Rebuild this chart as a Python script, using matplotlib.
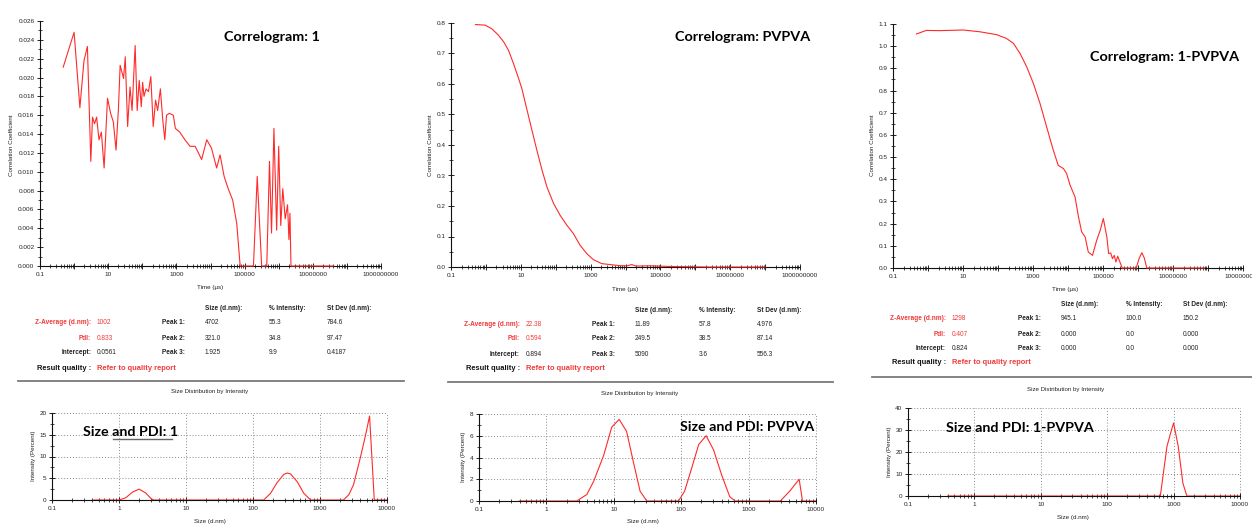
import numpy as np
import matplotlib
matplotlib.use('Agg')
import matplotlib.pyplot as plt
from matplotlib.ticker import FixedLocator, FixedFormatter, NullFormatter
from matplotlib.lines import Line2D

# ---------------- data ----------------
# Correlogram: 1  (log10 of time in µs, correlation coefficient)
corr1_logt = [-0.32, 0.00, 0.17, 0.29, 0.39, 0.49, 0.54, 0.60, 0.66, 0.73,
              0.80, 0.88, 0.98, 1.07, 1.15, 1.23, 1.30, 1.35, 1.45, 1.50,
              1.57, 1.64, 1.70, 1.79, 1.85, 1.91, 1.97, 2.01, 2.05, 2.11,
              2.18, 2.25, 2.32, 2.39, 2.45, 2.53, 2.60, 2.66, 2.71, 2.79,
              2.91, 2.97, 3.10, 3.25, 3.40, 3.55, 3.74, 3.89, 4.03, 4.18,
              4.28, 4.40, 4.52, 4.65, 4.77, 4.87, 5.26, 5.37, 5.50, 5.65,
              5.73, 5.79, 5.86, 5.94, 6.00, 6.06, 6.12, 6.19, 6.26, 6.30,
              6.33, 6.36, 7.60]
corr1_val = [0.0211, 0.0248, 0.0168, 0.0218, 0.0233, 0.0111, 0.0158, 0.0151, 0.0158, 0.0134,
             0.0142, 0.0104, 0.0178, 0.0162, 0.0153, 0.0123, 0.0167, 0.0213, 0.0199, 0.0222,
             0.0148, 0.0190, 0.0165, 0.0234, 0.0165, 0.0197, 0.0169, 0.0195, 0.0180, 0.0188,
             0.0185, 0.0201, 0.0148, 0.0176, 0.0165, 0.0188, 0.0155, 0.0134, 0.0160, 0.0162,
             0.0160, 0.0146, 0.0142, 0.0134, 0.0127, 0.0127, 0.0113, 0.0134, 0.0125, 0.0104,
             0.0118, 0.0095, 0.0082, 0.0070, 0.0045, 0.0000, 0.0000, 0.0095, 0.0000, 0.0000,
             0.0111, 0.0035, 0.0146, 0.0038, 0.0127, 0.0043, 0.0082, 0.0050, 0.0065, 0.0028,
             0.0056, 0.0000, 0.0000]

# Correlogram: PVPVA
corr2_logt = [-0.30, -0.02, 0.17, 0.36, 0.51, 0.65, 0.79, 0.94, 1.03, 1.18,
              1.32, 1.46, 1.61, 1.75, 1.94, 2.13, 2.32, 2.51, 2.70, 2.89,
              3.08, 3.32, 3.56, 3.85, 4.05, 4.18, 4.30, 4.70, 5.20, 5.70,
              6.40, 8.00]
corr2_val = [0.795, 0.793, 0.781, 0.760, 0.738, 0.710, 0.667, 0.617, 0.585, 0.514,
             0.448, 0.383, 0.317, 0.262, 0.208, 0.169, 0.137, 0.109, 0.071, 0.044,
             0.024, 0.011, 0.008, 0.004, 0.004, 0.008, 0.003, 0.004, 0.002, 0.001,
             0.000, 0.000]

# Correlogram: 1-PVPVA
corr3_logt = [-0.33, -0.05, 0.34, 1.00, 1.48, 1.96, 2.24, 2.44, 2.63, 2.82,
              3.01, 3.20, 3.39, 3.58, 3.72, 3.87, 3.96, 4.06, 4.20, 4.30,
              4.39, 4.49, 4.58, 4.70, 4.82, 4.92, 5.01, 5.11, 5.16, 5.22,
              5.27, 5.32, 5.37, 5.42, 5.50, 5.55, 5.95, 6.03, 6.11, 6.18,
              6.25, 7.90]
corr3_val = [1.055, 1.071, 1.070, 1.073, 1.065, 1.052, 1.035, 1.013, 0.967, 0.907,
             0.832, 0.742, 0.636, 0.531, 0.463, 0.448, 0.426, 0.373, 0.321, 0.230,
             0.163, 0.140, 0.072, 0.057, 0.125, 0.170, 0.223, 0.140, 0.065, 0.068,
             0.042, 0.057, 0.027, 0.053, 0.020, 0.000, 0.000, 0.042, 0.069, 0.045,
             0.000, 0.000]

# Size distributions (log10 of size in d.nm, intensity %)
size1_logd = [-0.40, 0.00, 0.10, 0.20, 0.30, 0.40, 0.48, 0.52,
              2.16, 2.26, 2.36, 2.46, 2.51, 2.56, 2.66, 2.76, 2.86,
              3.35, 3.43, 3.50, 3.60, 3.68, 3.74, 3.81, 4.00]
size1_val = [0, 0, 0.5, 1.8, 2.5, 1.6, 0.3, 0,
             0, 1.5, 4.0, 5.9, 6.2, 6.0, 4.2, 1.5, 0,
             0, 1.2, 3.5, 9.6, 14.9, 19.3, 0, 0]

size2_logd = [-0.40, 0.45, 0.60, 0.70, 0.85, 0.97, 1.08, 1.19, 1.29, 1.39, 1.49,
              1.96, 2.05, 2.13, 2.26, 2.37, 2.48, 2.60, 2.72, 2.80,
              3.47, 3.61, 3.75, 3.80, 4.00]
size2_val = [0, 0, 0.6, 1.8, 4.2, 6.8, 7.5, 6.4, 3.6, 0.9, 0,
             0, 0.9, 2.5, 5.2, 6.0, 4.7, 2.4, 0.4, 0,
             0, 0.9, 2.0, 0, 0]

size3_logd = [-0.40, 2.80, 2.90, 2.95, 3.00, 3.07, 3.14, 3.20, 4.00]
size3_val = [0, 0, 22.5, 28.1, 33.2, 22.5, 5.8, 0, 0]

# Result tables
tab_headers = ['Size (d.nm):', '% Intensity:', 'St Dev (d.nm):']
tab_labels = ['Z-Average (d.nm):', 'PdI:', 'Intercept:']
t1_vals = ['1002', '0.833', '0.0561']
t1_size = ['4702', '321.0', '1.925']
t1_int = ['55.3', '34.8', '9.9']
t1_sd = ['784.6', '97.47', '0.4187']
t2_vals = ['22.38', '0.594', '0.894']
t2_size = ['11.89', '249.5', '5090']
t2_int = ['57.8', '38.5', '3.6']
t2_sd = ['4.976', '87.14', '556.3']
t3_vals = ['1298', '0.407', '0.824']
t3_size = ['945.1', '0.000', '0.000']
t3_int = ['100.0', '0.0', '0.0']
t3_sd = ['150.2', '0.000', '0.000']

corr_xlabels = ['0.1', '', '10', '', '1000', '', '100000', '', '10000000', '', '1000000000']
size_xlabels = ['0.1', '1', '10', '100', '1000', '10000']

# ---------------- drawing ----------------
W, H = 1252, 525
fig = plt.figure(figsize=(W / 100, H / 100), dpi=100)
fig.patch.set_facecolor('white')

SANS = 'Liberation Sans'
TITLE_FONT = 'Lato'
RED = '#ff2a2a'
TRED = '#f03a3a'
DARK = '#222222'


def fx(x):
    return x / W


def fy(y):
    return 1 - y / H


def add_ax(l, t, r, b):
    return fig.add_axes([fx(l), fy(b), (r - l) / W, (b - t) / H])


def style_ticks(ax):
    ax.tick_params(axis='both', which='major', direction='inout', length=4, width=0.6,
                   labelsize=4.6, pad=2, colors='black', labelcolor=DARK)
    ax.tick_params(axis='both', which='minor', direction='inout', length=2.4, width=0.5,
                   colors='black')
    for lab in ax.get_xticklabels() + ax.get_yticklabels():
        lab.set_fontfamily(SANS)
    for s in ['left', 'bottom']:
        ax.spines[s].set_linewidth(0.8)
        ax.spines[s].set_color('#111111')
    ax.spines[['top', 'right']].set_visible(False)


def correlogram(box, logt, vals, ymax, ystep, fmt, minor_step):
    ax = add_ax(*box)
    ax.plot(10 ** np.array(logt), vals, color=RED, lw=0.8, clip_on=False, zorder=3)
    ax.set_xscale('log')
    ax.set_xlim(0.1, 1e9)
    ax.set_ylim(0, ymax)
    dec = 10.0 ** np.arange(-1, 10)
    ax.xaxis.set_major_locator(FixedLocator(dec))
    ax.xaxis.set_major_formatter(FixedFormatter(corr_xlabels))
    ax.xaxis.set_minor_locator(FixedLocator([d * k for d in dec[:-1] for k in range(2, 10)]))
    ax.xaxis.set_minor_formatter(NullFormatter())
    yt = np.arange(0, ymax + ystep / 2, ystep)
    ax.yaxis.set_major_locator(FixedLocator(yt))
    ax.yaxis.set_major_formatter(FixedFormatter([fmt % v for v in yt]))
    ax.yaxis.set_minor_locator(FixedLocator(np.arange(0, ymax + 1e-9, minor_step)))
    ax.set_facecolor('none')
    style_ticks(ax)
    return ax


def sizeplot(box, logd, vals, ymax, ystep, minor_step):
    ax = add_ax(*box)
    ax.plot(10 ** np.array(logd), vals, color=RED, lw=0.8, zorder=3)
    ax.set_xscale('log')
    ax.set_xlim(0.1, 1e4)
    ax.set_ylim(0, ymax)
    dec = 10.0 ** np.arange(-1, 5)
    ax.xaxis.set_major_locator(FixedLocator(dec))
    ax.xaxis.set_major_formatter(FixedFormatter(size_xlabels))
    ax.xaxis.set_minor_locator(FixedLocator([d * k for d in dec[:-1] for k in range(2, 10)]))
    ax.xaxis.set_minor_formatter(NullFormatter())
    yt = np.arange(0, ymax + ystep / 2, ystep)
    ax.yaxis.set_major_locator(FixedLocator(yt))
    ax.yaxis.set_major_formatter(FixedFormatter(['%g' % v for v in yt]))
    ax.yaxis.set_minor_locator(FixedLocator(np.arange(0, ymax + 1e-9, minor_step)))
    ax.grid(True, which='major', linestyle=(0, (1, 2)), color='#8a8a8a', lw=0.7, zorder=0)
    ax.set_axisbelow(True)
    style_ticks(ax)
    for g in ax.get_xgridlines() + ax.get_ygridlines():
        g.set_clip_on(False)
    return ax


def ftext(x, y, s, **kw):
    kw.setdefault('fontfamily', SANS)
    kw.setdefault('va', 'center')
    kw.setdefault('color', DARK)
    return fig.text(fx(x), fy(y), s, **kw)


def hline(x0, x1, y, color='#7a7a7a', lw=1.3):
    fig.add_artist(Line2D([fx(x0), fx(x1)], [fy(y), fy(y)], transform=fig.transFigure,
                          color=color, lw=lw))


def table(hdr_y, row_ys, rq_y, lab_r, val_x, peak_x, col_xs, vals, sizes, ints, sds, line):
    fs = 4.7
    for x, s in zip(col_xs, tab_headers):
        ftext(x, hdr_y, s, fontsize=fs, fontweight='bold', ha='left')
    colors = [TRED, TRED, DARK]
    for i, y in enumerate(row_ys):
        ftext(lab_r, y, tab_labels[i], fontsize=fs, fontweight='bold', ha='right', color=colors[i])
        ftext(val_x, y, vals[i], fontsize=fs, ha='left', color=colors[i])
        ftext(peak_x, y, 'Peak %d:' % (i + 1), fontsize=fs, fontweight='bold', ha='left')
        for x, col in zip(col_xs, [sizes, ints, sds]):
            ftext(x, y, col[i], fontsize=fs, ha='left')
    ftext(lab_r, rq_y, 'Result quality :', fontsize=5.4, fontweight='bold', ha='right', color='#111111')
    ftext(val_x, rq_y, 'Refer to quality report', fontsize=5.4, fontweight='bold', ha='left', color=TRED)
    hline(*line)


# --- correlograms ---
correlogram((40, 21, 381, 266), corr1_logt, corr1_val, 0.026, 0.002, '%.3f', 0.001)
correlogram((451, 23, 800, 267), corr2_logt, corr2_val, 0.8, 0.1, '%.1f', 0.05)
ax3 = correlogram((893, 24, 1243, 268), corr3_logt, corr3_val, 1.1, 0.1, '%.1f', 0.05)

for x in (12, 430, 872):
    ftext(x, 145, 'Correlation Coefficient', fontsize=4.5, rotation=90, ha='center')
for x, y in ((210, 288), (625, 289), (1065, 290)):
    ftext(x, y, 'Time (µs)', fontsize=4.5, ha='center')

TFS = 10.4
ftext(272, 37, 'Correlogram: 1', fontsize=TFS, fontweight='bold', ha='center',
      fontfamily=TITLE_FONT, color='black')
ftext(743, 37, 'Correlogram: PVPVA', fontsize=TFS, fontweight='bold', ha='center',
      fontfamily=TITLE_FONT, color='black')
ftext(1165, 57, 'Correlogram: 1-PVPVA', fontsize=TFS, fontweight='bold', ha='center',
      fontfamily=TITLE_FONT, color='black')

# --- tables ---
table(309, [323, 338, 353], 368, 91, 97, 162, [205, 269, 327], t1_vals, t1_size, t1_int, t1_sd,
      (18, 404, 381))
table(310, [324, 339, 354], 369, 520, 526, 592, [635, 699, 757], t2_vals, t2_size, t2_int, t2_sd,
      (448, 833, 382))
table(305, [319, 334, 349], 363, 946, 952, 1018, [1061, 1126, 1183], t3_vals, t3_size, t3_int, t3_sd,
      (872, 1252, 377))

# --- size distributions ---
sizeplot((52, 413, 387, 500), size1_logd, size1_val, 20, 5, 2.5)
sizeplot((479, 414, 816, 501), size2_logd, size2_val, 8, 2, 1)
sizeplot((908, 408, 1240, 496), size3_logd, size3_val, 40, 10, 5)

for x, y in ((210, 392), (640, 394), (1066, 389)):
    ftext(x, y, 'Size Distribution by Intensity', fontsize=4.4, ha='center')
for x, y in ((210, 521), (643, 522), (1073, 518)):
    ftext(x, y, 'Size (d.nm)', fontsize=4.5, ha='center')
for x, y in ((33, 456), (463, 457), (890, 452)):
    ftext(x, y, 'Intensity (Percent)', fontsize=4.5, rotation=90, ha='center')

SFS = 10.3
ftext(83, 432, 'Size and PDI: 1', fontsize=SFS, fontweight='bold', ha='left',
      fontfamily=TITLE_FONT, color='black')
hline(113, 172, 439, color='#666666', lw=1.0)
ftext(814, 427, 'Size and PDI: PVPVA', fontsize=SFS, fontweight='bold', ha='right',
      fontfamily=TITLE_FONT, color='black')
ftext(946, 428, 'Size and PDI: 1-PVPVA', fontsize=SFS, fontweight='bold', ha='left',
      fontfamily=TITLE_FONT, color='black')

fig.savefig('out.png', dpi=100, facecolor='white')
